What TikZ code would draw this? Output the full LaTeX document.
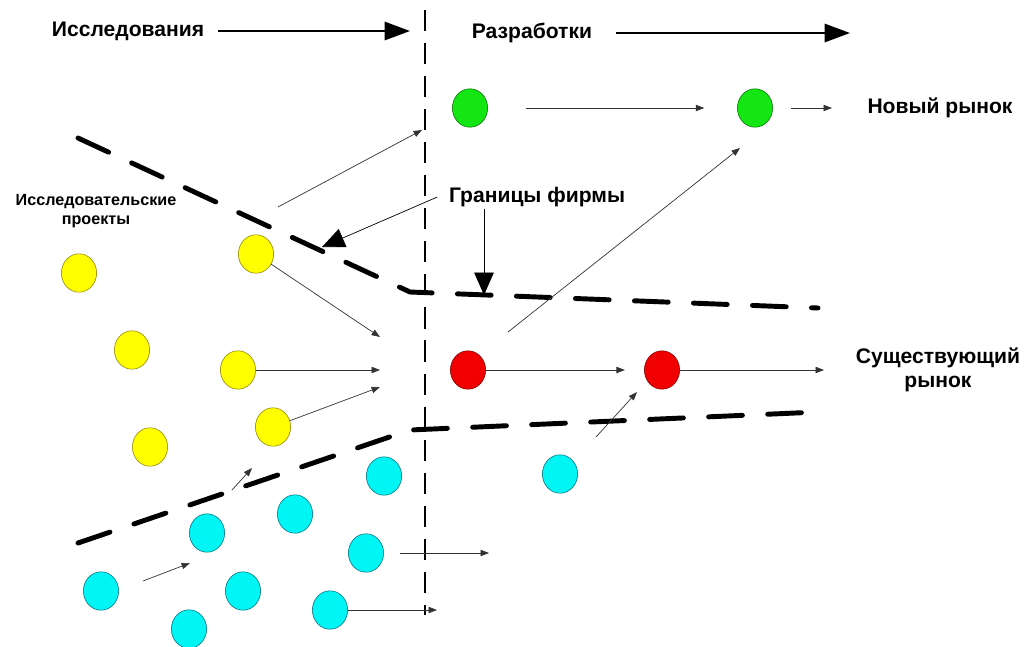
\documentclass[tikz,border=0pt]{standalone}
\usepackage{fontspec}
\setmainfont{Liberation Sans}
\usetikzlibrary{positioning,calc}
\usetikzlibrary{arrows.meta,shapes.geometric}
\definecolor{ProjYellow}{RGB}{255,255,0}
\definecolor{ProjYellowEdge}{RGB}{140,130,0}
\definecolor{ProjCyan}{RGB}{0,245,245}
\definecolor{ProjCyanEdge}{RGB}{0,110,120}
\definecolor{ProjRed}{RGB}{240,0,0}
\definecolor{ProjRedEdge}{RGB}{130,0,0}
\definecolor{ProjGreen}{RGB}{20,230,20}
\definecolor{ProjGreenEdge}{RGB}{0,110,0}
\tikzset{
  proj/.style={ellipse,draw,line width=0.4pt,inner sep=0pt,minimum width=0.88cm,minimum height=0.96cm},
  yel/.style={proj,fill=ProjYellow,draw=ProjYellowEdge},
  cyn/.style={proj,fill=ProjCyan,draw=ProjCyanEdge},
  rd/.style={proj,fill=ProjRed,draw=ProjRedEdge},
  grn/.style={proj,fill=ProjGreen,draw=ProjGreenEdge},
}
\tikzset{firm/.style={line width=3.5pt,dash pattern=on 24pt off 18pt,line cap=round},
  split/.style={line width=1.9pt,dash pattern=on 15pt off 8.5pt},
  link/.style={draw=black!80,line width=0.5pt,-{Triangle[length=6pt,width=4.5pt]}},
  flow/.style={line width=1.4pt,-{Triangle[length=18pt,width=13pt]}},
  hint/.style={line width=0.5pt,-{Triangle[length=16pt,width=14pt]}},
  head/.style={font=\bfseries\fontsize{15}{17}\selectfont,inner sep=1pt},
  note/.style={font=\bfseries\fontsize{11.5}{14}\selectfont,align=center,inner sep=1pt}}

\begin{document}
\begin{tikzpicture}[x=0.025cm,y=-0.025cm]
\useasboundingbox (0,0) rectangle (1027,646);
% headings
\node[head] (res) at (128,31) {Исследования};
\node[head] (dev) at (532,33) {Разработки};
\coordinate (resEnd) at (410,31);
\coordinate (devEnd) at (850,33);
\draw[flow] ([xshift=0.3cm]res.east) -- (resEnd);
\draw[flow] ([xshift=0.55cm]dev.east) -- (devEnd);
% research / development split
\coordinate (splitTop) at (425,10);
\coordinate (splitBot) at (425,615);
\draw[split] (splitTop) -- (splitBot);
% firm boundaries
\coordinate (fu1) at (78,138);
\coordinate (fu2) at (410,292);
\coordinate (fu3) at (818,308);
\coordinate (fl1) at (78,543);
\coordinate (fl2) at (410,430);
\coordinate (fl3) at (818,412);
\draw[firm] (fu1) -- (fu2) -- (fu3);
\draw[firm] (fl1) -- (fl2) -- (fl3);
% labels
\node[note] (proj) at (96,211) {Исследовательские\\проекты};
\node[head] (gran) at (537,197) {Границы фирмы};
\node[head] (nm) at (940,108) {Новый рынок};
\node[head,align=center] (em) at (938,370) {Существующий\\рынок};
\coordinate (granL) at (322,247);
\coordinate (granD) at (484,295);
\draw[hint] ([xshift=-0.25cm]gran.west) -- (granL);
\draw[hint] (gran.south -| granD) -- (granD);
% projects
\node[yel] (y1) at (79,273) {};
\node[yel] (y2) at (256,254) {};
\node[yel] (y3) at (132,350) {};
\node[yel] (y4) at (238,370) {};
\node[yel] (y5) at (150,447) {};
\node[yel] (y6) at (273,427) {};
\node[cyn] (c1) at (384,476) {};
\node[cyn] (c2) at (295,514) {};
\node[cyn] (c3) at (207,533) {};
\node[cyn] (c4) at (366,553) {};
\node[cyn] (c5) at (101,591) {};
\node[cyn] (c6) at (243,591) {};
\node[cyn] (c7) at (330,610) {};
\node[cyn] (c8) at (189,629) {};
\node[cyn] (c9) at (560,474) {};
\node[rd] (r1) at (468,370) {};
\node[rd] (r2) at (662,370) {};
\node[grn] (g1) at (470,108) {};
\node[grn] (g2) at (755,108) {};
% flows of projects
\coordinate (t1) at (380,337);
\coordinate (t2) at (380,370);
\coordinate (t3) at (380,387);
\coordinate (s4) at (278,207);
\coordinate (t4) at (422,130);
\coordinate (s5) at (508,332);
\coordinate (t5) at (740,148);
\coordinate (t6) at (824,370);
\coordinate (s7) at (596,437);
\coordinate (t7) at (637,392);
\coordinate (s8) at (232,490);
\coordinate (t8) at (252,468);
\coordinate (s9) at (143,581);
\coordinate (t9) at (190,563);
\coordinate (s10) at (400,553);
\coordinate (t10) at (489,553);
\coordinate (t11) at (437,610);
\coordinate (t12) at (832,108);
\draw[link] (y2) -- (t1);
\draw[link] (y4) -- (t2);
\draw[link] (y6) -- (t3);
\draw[link] (s4) -- (t4);
\draw[link] (s5) -- (t5);
\draw[link,shorten <=0.95cm,shorten >=0.82cm] (g1) -- (g2);
\draw[link,shorten <=0.45cm] (g2) -- (t12);
\draw[link,shorten >=0.48cm] (r1) -- (r2);
\draw[link] (r2) -- (t6);
\draw[link] (s7) -- (t7);
\draw[link] (s8) -- (t8);
\draw[link] (s9) -- (t9);
\draw[link] (s10) -- (t10);
\draw[link] (c7) -- (t11);
\end{tikzpicture}
\end{document}
